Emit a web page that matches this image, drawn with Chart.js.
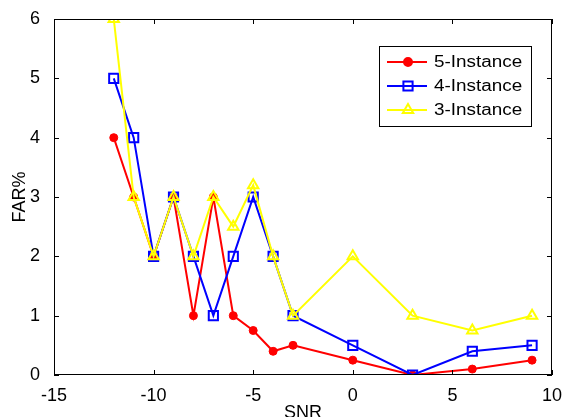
<!DOCTYPE html>
<html>
<head>
<meta charset="utf-8">
<script src="https://cdn.jsdelivr.net/npm/chart.js@4.4.0/dist/chart.umd.min.js"></script>
<style>
  html, body { margin: 0; padding: 0; background: #fff; }
  #wrap { width: 564px; height: 417px; }
</style>
</head>
<body>
<div id="wrap"><canvas id="mycanvas" width="564" height="417"></canvas></div>
<script>
// data
var snr = [-12, -11, -10, -9, -8, -7, -6, -5, -4, -3, 0, 3, 6, 9];
var far5 = [4, 3, 2, 3, 1, 3, 1, 0.75, 0.4, 0.5, 0.25, 0, 0.1, 0.25];
var far4 = [5, 4, 2, 3, 2, 1, 2, 3, 2, 1, 0.5, 0, 0.4, 0.5];
var far3 = [6, 3, 2, 3, 2, 3, 2.5, 3.2, 2, 1, 2, 1, 0.75, 1];
var names = ['5-Instance', '4-Instance', '3-Instance'];
var xTicks = [-15, -10, -5, 0, 5, 10];
var yTicks = [0, 1, 2, 3, 4, 5, 6];

var FONT = 'Arial, "Liberation Sans", sans-serif';

function pts(vals) {
  var out = [];
  for (var i in snr) out.push({x: snr[i], y: vals[i]});
  return out;
}

// box, inward ticks, axis titles, legend -- matlab look
var matlabBox = {
  id: 'matlabBox',
  afterDraw: function(chart) {
    var ctx = chart.ctx, a = chart.chartArea;
    var xs = chart.scales.x, ys = chart.scales.y;
    ctx.save();
    ctx.strokeStyle = '#000';
    ctx.lineWidth = 1;
    ctx.strokeRect(a.left + 0.5, a.top + 0.5, a.right - a.left - 1, a.bottom - a.top - 1);
    ctx.beginPath();
    xTicks.forEach(function(v) {
      var px = Math.round(xs.getPixelForValue(v)) + 0.5;
      ctx.moveTo(px, a.bottom); ctx.lineTo(px, a.bottom - 5);
      ctx.moveTo(px, a.top); ctx.lineTo(px, a.top + 5);
    });
    yTicks.forEach(function(v) {
      var py = Math.round(ys.getPixelForValue(v)) + 0.5;
      ctx.moveTo(a.left, py); ctx.lineTo(a.left + 5, py);
      ctx.moveTo(a.right, py); ctx.lineTo(a.right - 5, py);
    });
    ctx.stroke();

    // axis titles
    ctx.fillStyle = '#000';
    ctx.font = '18px ' + FONT;
    ctx.textAlign = 'center';
    ctx.textBaseline = 'alphabetic';
    ctx.fillText('SNR', (a.left + a.right) / 2, 418);
    ctx.save();
    ctx.translate(25, (a.top + a.bottom) / 2);
    ctx.rotate(-Math.PI / 2);
    ctx.fillText('FAR%', 0, 0);
    ctx.restore();

    // legend
    var lx = 379, ly = 46, lw = 152, lh = 80;
    ctx.fillStyle = '#fff';
    ctx.fillRect(lx, ly, lw, lh);
    ctx.strokeStyle = '#000';
    ctx.lineWidth = 1;
    ctx.strokeRect(lx + 0.5, ly + 0.5, lw, lh);
    var rows = [62, 86, 110];
    chart.data.datasets.forEach(function(ds, i) {
      var y = rows[i];
      ctx.strokeStyle = ds.borderColor;
      ctx.lineWidth = 2;
      ctx.beginPath();
      ctx.moveTo(387, y); ctx.lineTo(427, y);
      ctx.stroke();
      ctx.fillStyle = ds.backgroundColor;
      ctx.strokeStyle = ds.borderColor;
      Chart.helpers.drawPoint(ctx, {
        pointStyle: ds.pointStyle, radius: ds.pointRadius, borderWidth: ds.pointBorderWidth
      }, 408, y);
      ctx.save();
      ctx.fillStyle = '#000';
      ctx.font = '16px ' + FONT;
      ctx.textAlign = 'left';
      ctx.textBaseline = 'middle';
      ctx.translate(434, y + 1);
      ctx.scale(1.18, 1);
      ctx.fillText(ds.label, 0, 0);
      ctx.restore();
    });
    ctx.restore();
  }
};

var lineData = {
  datasets: [
    {
      label: names[0],
      data: pts(far5),
      borderColor: '#ff0000',
      backgroundColor: '#ff0000',
      pointStyle: 'circle',
      pointRadius: 4,
      pointBorderWidth: 1,
      borderWidth: 2,
      order: 2
    },
    {
      label: names[1],
      data: pts(far4),
      borderColor: '#0000ff',
      backgroundColor: 'rgba(0,0,0,0)',
      pointStyle: 'rect',
      pointRadius: 6.5,
      pointBorderWidth: 2,
      borderWidth: 2,
      order: 1
    },
    {
      label: names[2],
      data: pts(far3),
      borderColor: '#ffff00',
      backgroundColor: 'rgba(0,0,0,0)',
      pointStyle: 'triangle',
      pointRadius: 6,
      pointBorderWidth: 2,
      borderWidth: 2,
      order: 0
    }
  ]
};

var ctx = document.getElementById('mycanvas');
var lineGraph = new Chart(ctx, {
  type: 'line',
  data: lineData,
  options: {
    responsive: false,
    animation: false,
    layout: { padding: { top: 19, right: 12, left: 0, bottom: 0 } },
    plugins: { legend: { display: false }, tooltip: { enabled: false } },
    scales: {
      x: {
        type: 'linear',
        min: -15, max: 10,
        afterBuildTicks: function(s) { s.ticks = xTicks.map(function(v) { return {value: v}; }); },
        afterFit: function(s) { s.height = 42; },
        grid: { display: false },
        border: { display: false },
        ticks: { color: '#000', font: { family: FONT, size: 18 }, padding: 2, maxRotation: 0 }
      },
      y: {
        min: 0, max: 6,
        afterBuildTicks: function(s) { s.ticks = yTicks.map(function(v) { return {value: v}; }); },
        afterFit: function(s) { s.width = 54; },
        grid: { display: false },
        border: { display: false },
        ticks: { color: '#000', font: { family: FONT, size: 18 }, padding: 6 }
      }
    }
  },
  plugins: [matlabBox]
});
</script>
</body>
</html>
